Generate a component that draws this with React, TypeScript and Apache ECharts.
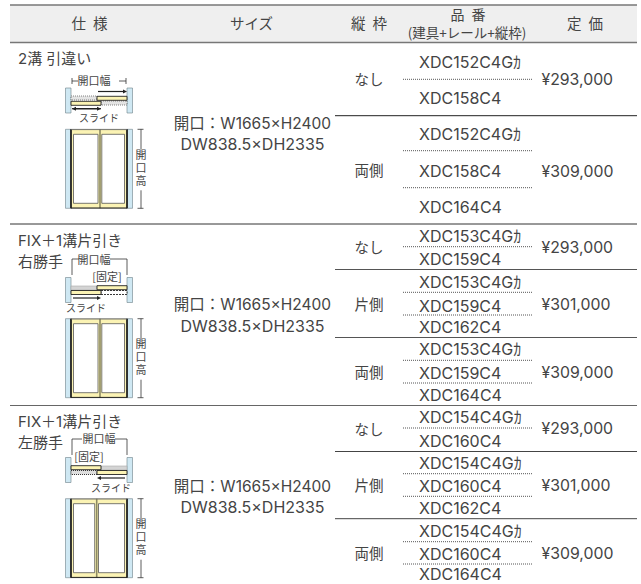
import React, { useEffect, useRef } from "react";
import * as echarts from "echarts";

const headers = ["仕\u2002様", "サイズ", "縦\u2002枠", "定\u2002価"];
const headerPart = ["品\u2002番", "(建具+レール+縦枠)"];
const specLabels = [["2溝 引違い"], ["FIX＋1溝片引き", "右勝手"], ["FIX＋1溝片引き", "左勝手"]];
const sizeLines = ["開口：W1665×H2400", "DW838.5×DH2335"];
const heightLabel = "開\n口\n高";
const frames1 = ["なし", "両側"];
const frames2 = ["なし", "片側", "両側"];
const frames3 = ["なし", "片側", "両側"];
const codes1 = [["XDC152C4Gｶ", "XDC158C4"], ["XDC152C4Gｶ", "XDC158C4", "XDC164C4"]];
const codes2 = [["XDC153C4Gｶ", "XDC159C4"], ["XDC153C4Gｶ", "XDC159C4", "XDC162C4"], ["XDC153C4Gｶ", "XDC159C4", "XDC164C4"]];
const codes3 = [["XDC154C4Gｶ", "XDC160C4"], ["XDC154C4Gｶ", "XDC160C4", "XDC162C4"], ["XDC154C4Gｶ", "XDC160C4", "XDC164C4"]];
const prices1 = ["¥293,000", "¥309,000"];
const prices2 = ["¥293,000", "¥301,000", "¥309,000"];
const prices3 = ["¥293,000", "¥301,000", "¥309,000"];

const FONT = 'Inter,"Noto Sans CJK JP",sans-serif';
const CJK = '"Noto Sans CJK JP",sans-serif';
const COMPACT = '"Liberation Sans","Noto Sans CJK JP",sans-serif';
const INK = "#444";
const el: any[] = [];

function txt(t: string, x: number, y: number, size = 14.5, align = "left", family = CJK, lh?: number) {
  const dy = family === CJK ? -size * 0.1 : 0;
  el.push({ type: "text", x, y: y + dy, style: { text: t, fontSize: size, fontFamily: family, fill: INK, textAlign: align, textVerticalAlign: "middle", lineHeight: lh } });
}
function line(x1: number, y1: number, x2: number, y2: number, stroke = "#333", w = 1, dash?: number[]) {
  el.push({ type: "line", shape: { x1, y1, x2, y2 }, style: { stroke, lineWidth: w, lineDash: dash } });
}
function rect(x: number, y: number, w: number, h: number, fill: string, stroke?: string, lw = 1, dash?: number[]) {
  el.push({ type: "rect", shape: { x, y, width: w, height: h }, style: { fill, stroke: stroke ?? "none", lineWidth: lw, lineDash: dash } });
}
function arrow(x1: number, x2: number, y: number) {
  const d = x2 > x1 ? 1 : -1;
  line(x1, y, x2 - d * 2, y, "#222", 1.2);
  el.push({ type: "polygon", shape: { points: [[x2, y], [x2 - d * 4, y - 2], [x2 - d * 4, y + 2]] }, style: { fill: "#222" } });
}

const YEL = "#fbf3b4";
const BLUE = "#cfe8f3";
const WALL = "#6d7f88";

function elevation(top: number, postX: number) {
  const h = 79;
  rect(65.5, top, 5.5, h, BLUE, WALL, 0.6);
  rect(127, top, 5.5, h, BLUE, WALL, 0.6);
  rect(71, top, 56, h, YEL, "#888", 0.6);
  rect(73.5, top + 5, postX - 75.5, h - 10, "#fff", "#555", 0.8);
  rect(postX + 1.8, top + 5, 124.5 - postX - 1.8, h - 10, "#fff", "#555", 0.8);
  line(postX, top, postX, top + h, "#8d8a62", 1.6);
  line(71, top, 71, top + h, "#111", 1.6);
  line(127, top, 127, top + h, "#111", 1.6);
  line(71, top + h - 0.3, 127, top + h - 0.3, "#222", 1);
  line(71, top + 0.3, 127, top + 0.3, "#666", 0.8);
  line(137.5, top, 143.5, top, "#333", 0.8);
  line(137.5, top + h, 143.5, top + h, "#333", 0.8);
  line(141, top, 141, top + 20, "#333", 0.8);
  line(141, top + 61, 141, top + h, "#333", 0.8);
  txt(heightLabel, 141, top + 38.5, 11, "center", COMPACT, 13);
}

function walls(top: number) {
  rect(65.5, top, 5.5, 25, BLUE, WALL, 0.6);
  rect(127, top, 5.5, 25, BLUE, WALL, 0.6);
}
function door(x: number, y: number, w: number) {
  rect(x, y, w, 4, YEL, "#222", 0.9);
}

function plan1() {
  txt("開口幅", 94, 81, 11, "center");
  line(72, 78, 72, 84, "#333", 0.8);
  line(72, 81, 78, 81, "#333", 0.8);
  line(119, 81, 126, 81, "#333", 0.8);
  line(126, 78, 126, 84, "#333", 0.8);
  walls(88);
  rect(71, 96, 26, 4, "#e4e4e4", "#666", 0.8, [1, 1]);
  rect(101, 101, 26, 4, "#e4e4e4", "#666", 0.8, [1, 1]);
  door(97, 96.3, 30);
  door(71, 101.3, 30);
  arrow(98, 127, 91.5);
  arrow(101, 72, 108.7);
  arrow(72, 101, 108.7);
  txt("スライド", 99, 118, 10, "center");
}
function plan2() {
  txt("開口幅", 94, 260, 11, "center");
  line(72, 259, 79, 259, "#333", 0.8);
  line(72, 259, 72, 275, "#333", 0.8);
  line(110, 259, 127, 259, "#333", 0.8);
  line(127, 259, 127, 275, "#333", 0.8);
  txt("[固定]", 107, 277, 11, "center");
  walls(277.5);
  rect(71, 286, 26, 4, "#d4d4d4", "#aaa", 0.6);
  rect(101, 290.5, 26, 4, "#fff", "#222", 0.9, [2, 1]);
  door(97, 285.7, 30);
  door(71, 290.5, 30);
  arrow(73, 101, 298);
  txt("スライド", 86, 308, 10, "center");
}
function plan3() {
  txt("開口幅", 99, 439, 11, "center");
  line(72, 439, 82, 439, "#333", 0.8);
  line(72, 439, 72, 455, "#333", 0.8);
  line(115, 439, 127, 439, "#333", 0.8);
  line(127, 439, 127, 455, "#333", 0.8);
  txt("[固定]", 89, 457, 11, "center");
  walls(457.5);
  rect(101, 466, 26, 4, "#d4d4d4", "#aaa", 0.6);
  rect(71, 470.5, 26, 4, "#ddd", "#222", 0.9, [1, 1]);
  door(97, 470.5, 30);
  door(71, 465.7, 30);
  arrow(125, 97, 478);
  txt("スライド", 111, 488, 10, "center");
}

function rows(frames: string[], codes: string[][], prices: string[], labelYs: number[], priceYs: number[], codeYs: number[][], dotYs: number[][]) {
  frames.forEach((f, i) => {
    txt(f, 369, labelYs[i], 14.5, "center");
    txt(prices[i], 541.5, priceYs[i], 15.8, "left", FONT);
    codes[i].forEach((c, j) => txt(c, 419, codeYs[i][j], 16, "left", FONT));
    dotYs[i].forEach((y) => line(403, y, 533, y, "#555", 1, [1, 1]));
  });
}

function build() {
  rect(10, 5, 627, 37.5, "#efefef");
  line(10, 5, 637, 5, "#777", 1.4);
  line(10, 42.5, 637, 42.5, "#777", 1.4);
  txt(headers[0], 89.5, 24, 14.5, "center");
  txt(headers[1], 251.5, 24, 14.5, "center");
  txt(headers[2], 369, 24, 14.5, "center");
  txt(headerPart[0], 468, 15, 14, "center");
  txt(headerPart[1], 467, 33.5, 13.5, "center");
  txt(headers[3], 585, 24, 14.5, "center");

  line(335, 115.7, 637, 115.7, "#222", 1);
  line(10, 224, 637, 224, "#333", 1);
  line(335, 269.5, 637, 269.5, "#555", 1);
  line(335, 337.5, 637, 337.5, "#555", 1);
  line(10, 405.5, 637, 405.5, "#666", 1.2);
  line(335, 451.5, 637, 451.5, "#444", 1);
  line(335, 518.7, 637, 518.7, "#444", 1);

  txt(specLabels[0][0], 18, 58, 15, "left", FONT);
  txt(specLabels[1][0], 18, 240, 15, "left", FONT);
  txt(specLabels[1][1], 18, 262, 15);
  txt(specLabels[2][0], 18, 421.5, 15, "left", FONT);
  txt(specLabels[2][1], 18, 442.7, 15);

  [[123, 144], [304, 326], [486, 507]].forEach(([a, b]) => {
    txt(sizeLines[0], 252.5, a, 15.5, "center", FONT);
    txt(sizeLines[1], 252.5, b, 16, "center", FONT);
  });

  rows(frames1, codes1, prices1, [80, 171], [79.5, 171], [[61.7, 98.3], [133.7, 171.3, 207.3]], [[79.3], [150.7, 187.7]]);
  rows(frames2, codes2, prices2, [248.3, 305, 372.7], [247.7, 304, 372.3], [[236, 259.3], [281.7, 305.7, 327.3], [349.3, 373.3, 395.3]], [[246.7], [292.3, 315], [360.3, 383]]);
  rows(frames3, codes3, prices3, [430, 486, 553.7], [428.7, 485.5, 553.5], [[417.3, 440.7], [462.7, 486, 508.3], [530.7, 553.7, 574.2]], [[428], [473.7, 496.3], [541.7, 564]]);

  plan1();
  plan2();
  plan3();
  elevation(129.3, 100);
  elevation(318.7, 100);
  elevation(498.7, 96.7);
}
build();

export default function App() {
  const ref = useRef<HTMLDivElement>(null);
  useEffect(() => {
    document.body.style.margin = "0";
    const chart = echarts.init(ref.current!, undefined, { renderer: "svg" });
    chart.setOption({ animation: false, backgroundColor: "#fff", graphic: { elements: el } });
    return () => chart.dispose();
  }, []);
  return <div ref={ref} style={{ width: 641, height: 584 }} />;
}
